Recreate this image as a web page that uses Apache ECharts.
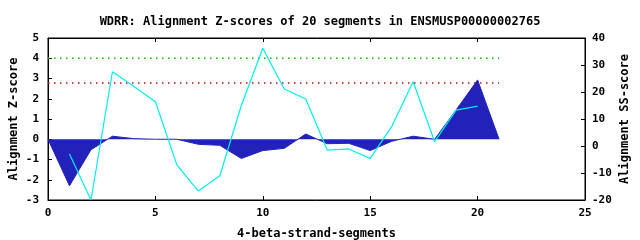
<!DOCTYPE html>
<html><head><meta charset="utf-8">
<script src="https://cdn.jsdelivr.net/npm/echarts@6/dist/echarts.min.js"></script>
<style>html,body{margin:0;padding:0;background:#fff}#c{width:640px;height:240px}</style>
</head><body><div id="c"></div>
<script>
var title = 'WDRR: Alignment Z-scores of 20 segments in ENSMUSP00000002765';
var zX = [0,1,2,3,4,5,6,7,8,9,10,11,12,13,14,15,16,17,18,19,20,21];
var zScores = [0,-2.3,-0.52,0.15,0.03,0,0,-0.25,-0.3,-0.95,-0.56,-0.45,0.26,-0.22,-0.2,-0.56,-0.1,0.15,0,1.45,2.93,0];
var ssX = [1,2,3,4,5,6,7,8,9,10,11,12,13,14,15,16,17,18,19,20];
var ssScores = [-3,-20,27.5,22,16.4,-7,-16.7,-11,15,36.2,21.1,17.4,-1.5,-1.1,-4.6,7.2,23.8,1.6,13.3,14.8];
var greenLevel = 4;
var redLevel = 2.78;
var lineStart = 0, lineEnd = 21;
var font = '"DejaVu Sans Mono", monospace';

var chart = echarts.init(document.getElementById('c'), null, {renderer:'canvas'});
function pairs(xs, ys){ return xs.map(function(x,i){return [x, ys[i]];}); }
var lbl = {fontFamily:font, fontWeight:'bold', fontSize:11, color:'#000'};
var nm = {fontFamily:font, fontWeight:'bold', fontSize:12, color:'#000'};
chart.setOption({
  animation:false,
  title:{text:title, left:'center', top:11, textStyle:{fontFamily:font, fontWeight:'bold', fontSize:12, color:'#000'}},
  grid:{left:48, right:55, top:38, bottom:40, outerBoundsMode:'none', containLabel:false, show:true, borderColor:'#000', borderWidth:1, backgroundColor:'transparent'},
  xAxis:[{type:'value', min:0, max:25, interval:5, position:'bottom',
    name:'4-beta-strand-segments', nameLocation:'middle', nameGap:28, nameMoveOverlap:false, nameTextStyle:nm,
    axisLine:{onZero:false, lineStyle:{color:'#000'}}, axisTick:{inside:true, length:4, lineStyle:{color:'#000'}},
    axisLabel:Object.assign({margin:8}, lbl), splitLine:{show:false}},
   {type:'value', min:0, max:25, interval:5, position:'top',
    axisLine:{show:true, onZero:false, lineStyle:{color:'#000'}}, axisTick:{show:true, inside:true, length:4, lineStyle:{color:'#000'}},
    axisLabel:{show:false}, splitLine:{show:false}}],
  yAxis:[{type:'value', min:-3, max:5, interval:1, position:'left',
    name:'Alignment Z-score', nameLocation:'middle', nameGap:28, nameMoveOverlap:false, nameRotate:90, nameTextStyle:nm,
    axisLine:{show:true, onZero:false, lineStyle:{color:'#000'}}, axisTick:{show:true, inside:true, length:4, lineStyle:{color:'#000'}},
    axisLabel:Object.assign({margin:9}, lbl), splitLine:{show:false}},
   {type:'value', min:-20, max:40, interval:10, position:'right',
    name:'Alignment SS-score', nameLocation:'middle', nameGap:34, nameMoveOverlap:false, nameRotate:90, nameTextStyle:nm,
    axisLine:{show:true, onZero:false, lineStyle:{color:'#000'}}, axisTick:{show:true, inside:true, length:4, lineStyle:{color:'#000'}},
    axisLabel:Object.assign({margin:7}, lbl), splitLine:{show:false}}],
  series:[
    {type:'line', data:pairs(zX, zScores), showSymbol:false, symbol:'none',
     lineStyle:{width:1, color:'#2222bb'}, areaStyle:{color:'#2222bb', opacity:1, origin:0}, z:2},
    {type:'line', data:[[lineStart,greenLevel],[lineEnd,greenLevel]], symbol:'none',
     lineStyle:{width:1.5, color:'#00c000', type:[1.5,4.5]}, z:3},
    {type:'line', data:[[lineStart,redLevel],[lineEnd,redLevel]], symbol:'none',
     lineStyle:{width:1.5, color:'#e00000', type:[1.5,4.5]}, z:3},
    {type:'line', yAxisIndex:1, data:pairs(ssX, ssScores), symbol:'none',
     lineStyle:{width:1.2, color:'#00eeee'}, z:4}
  ]
});
</script></body></html>
